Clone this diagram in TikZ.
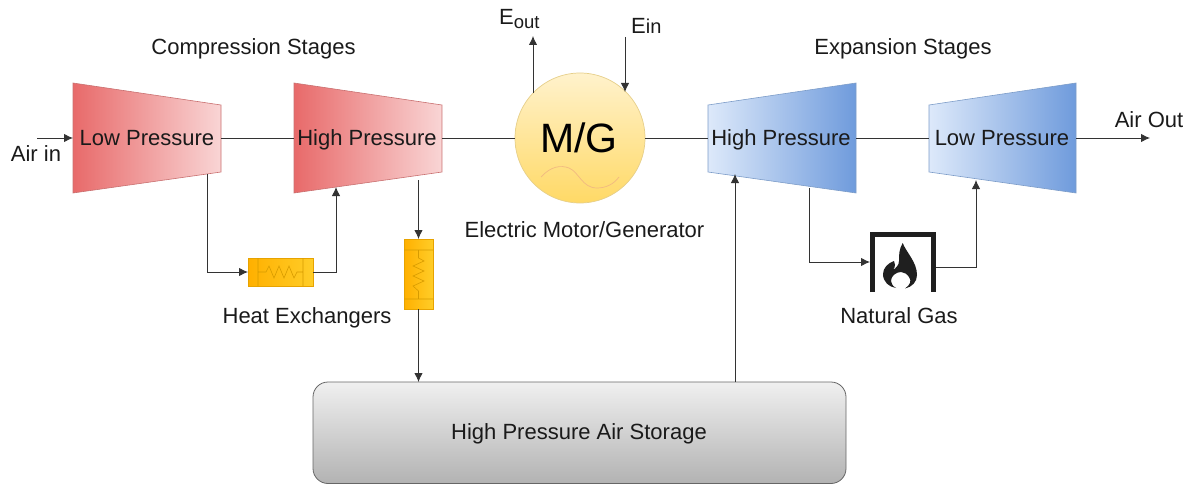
\documentclass[tikz,border=0pt]{standalone}
\usepackage{fontspec}
\setmainfont{Liberation Sans}
\usetikzlibrary{arrows.meta}
\definecolor{txt}{HTML}{1A1A1A}
\definecolor{lnk}{HTML}{333333}
\definecolor{redA}{HTML}{E86A6A}
\definecolor{redB}{HTML}{F9D5D5}
\definecolor{redL}{HTML}{C97070}
\definecolor{bluA}{HTML}{DDE9FA}
\definecolor{bluB}{HTML}{6F9BDC}
\definecolor{bluL}{HTML}{7C9CC8}
\definecolor{hxA}{HTML}{FFB000}
\definecolor{hxB}{HTML}{FFCD28}
\definecolor{hxL}{HTML}{D79B00}
\definecolor{mgA}{HTML}{FFF2CC}
\definecolor{mgB}{HTML}{FFD966}
\definecolor{mgL}{HTML}{E6CF8A}
\tikzset{
  x=1pt,y=-1pt,
  lbl/.style={font=\fontsize{22}{26}\selectfont,text=txt,inner sep=0pt,anchor=base},
  wire/.style={draw=lnk,line width=.9pt},
  conn/.style={wire,-{Latex[length=9pt,width=8.5pt]}},
  comp/.style={left color=redA,right color=redB,draw=redL,line width=.6pt},
  expa/.style={left color=bluA,right color=bluB,draw=bluL,line width=.6pt},
  hxbox/.style={left color=hxA,right color=hxB,draw=hxL!60!hxA,line width=.6pt},
  hxin/.style={draw=hxL,line width=.6pt},
  fire/.style={draw=black!88,line width=4.8pt,line cap=butt,line join=miter}
}
\begin{document}
\begin{tikzpicture}
\useasboundingbox (0,0) rectangle (1197,484);
% turbomachines
\shadedraw[comp] (73,83) -- (221,105) -- (221,172) -- (73,193) -- cycle;
\shadedraw[comp] (294,83) -- (442,105) -- (442,172) -- (294,193) -- cycle;
\shadedraw[expa] (708,105) -- (856,83) -- (856,193) -- (708,172) -- cycle;
\shadedraw[expa] (929,105) -- (1076,83) -- (1076,193) -- (929,172) -- cycle;
% storage
\shadedraw[top color=black!6,bottom color=black!30,draw=black!60,line width=.8pt,rounded corners=15pt]
  (313,382) rectangle (846,483.5);
% motor
\shadedraw[top color=mgA,bottom color=mgB,draw=mgL,line width=.7pt] (580,138) circle (65);
\draw[draw=orange!60!brown!55,line width=.7pt] (541,177) .. controls (551,166) and (561,165) .. (569,168)
  .. controls (579,172) and (582,188) .. (597,188) .. controls (606,188) and (614,184) .. (619,177);
% heat exchangers
\shade[hxbox,draw] (248,258) rectangle (313,286);
\draw[hxin] (258,258) -- (258,286) (303,258) -- (303,286)
  (258,272) -- (266,272) -- (269,266) -- (274,278) -- (279,266) -- (284,278) -- (289,266) -- (294,278) -- (297,272) -- (303,272);
\shade[hxbox,draw] (404,239) rectangle (433,309);
\draw[hxin] (404,250) -- (433,250) (404,299) -- (433,299)
  (418.5,250) -- (418.5,258) -- (424,261) -- (413,266) -- (424,271) -- (413,276) -- (424,281) -- (413,286) -- (418.5,291) -- (418.5,299);
% furnace
\draw[fire] (872.5,292) -- (872.5,234.5) -- (933.5,234.5) -- (933.5,292);
\fill[black!88] (902.7,243) .. controls (906,252) and (917,262) .. (917,275)
  .. controls (917,282) and (912,287) .. (905,288.5)
  .. controls (910,285) and (912,281) .. (909,277)
  .. controls (907,274) and (904,272) .. (901,272)
  .. controls (896,272) and (891,276) .. (891,281)
  .. controls (891,284) and (893,286) .. (896,288)
  .. controls (889,287) and (883,282) .. (883,274)
  .. controls (883,268) and (888,263) .. (894,261)
  .. controls (895,263) and (896,266) .. (893,270)
  .. controls (896,268) and (899,265) .. (899,261)
  .. controls (899,255) and (899,249) .. (902.7,243) -- cycle;
% text and named anchors
\node[lbl] (lp1) at (147,145.5) {Low Pressure};
\node[lbl] (hp1) at (367,145.5) {High Pressure};
\node[lbl] (hp2) at (781,145.5) {High Pressure};
\node[lbl] (lp2) at (1002,145.5) {Low Pressure};
\node[lbl,font=\fontsize{41}{46}\selectfont,text=black] (mg) at (579,153) {M/G};
\node[lbl] at (253.5,55) {Compression Stages};
\node[lbl] at (903,55) {Expansion Stages};
\node[lbl] at (584.5,237) {Electric Motor/Generator};
\node[lbl] at (307,323) {Heat Exchangers};
\node[lbl] at (899,323) {Natural Gas};
\node[lbl] (store) at (579,439) {High Pressure Air Storage};
\node[lbl] at (36,162) {Air in};
\node[lbl] at (1149,128) {Air Out};
\node[lbl,anchor=base west] at (499,24.5) {E\raisebox{-4pt}{\fontsize{18.5}{22}\selectfont out}};
\node[lbl,anchor=base west] at (631,33.5) {E\fontsize{20}{24}\selectfont in};
% connector ends
\coordinate (c1L) at (73,138); \coordinate (c1R) at (221,138);
\coordinate (c2L) at (294,138); \coordinate (c2R) at (442,138);
\coordinate (mL) at (515,138); \coordinate (mR) at (645,138);
\coordinate (t1L) at (708,138); \coordinate (t1R) at (856,138);
\coordinate (t2L) at (929,138); \coordinate (t2R) at (1076,138);
\coordinate (airin) at (37,138); \coordinate (airout) at (1150,138);
\coordinate (c1B) at (207,174); \coordinate (hx1L) at (248,272); \coordinate (hx1R) at (313,272);
\coordinate (c2Bin) at (336,187); \coordinate (c2Bout) at (418.5,180);
\coordinate (hx2T) at (418.5,239); \coordinate (hx2B) at (418.5,309); \coordinate (stT) at (418.5,382);
\coordinate (stU) at (735,382); \coordinate (t1B) at (735,174);
\coordinate (t1Bo) at (809,188); \coordinate (fL) at (870,262); \coordinate (fR) at (936,267);
\coordinate (t2B) at (976,180);
\coordinate (eoS) at (533,93); \coordinate (eoT) at (533,36);
\coordinate (eiS) at (625,37); \coordinate (eiT) at (625,92);
% connectors
\draw[conn] (airin) -- (c1L);
\draw[wire] (c1R) -- (c2L);
\draw[wire] (c2R) -- (mL);
\draw[wire] (mR) -- (t1L);
\draw[wire] (t1R) -- (t2L);
\draw[conn] (t2R) -- (airout);
\draw[conn] (eoS) -- (eoT);
\draw[conn] (eiS) -- (eiT);
\draw[conn] (c1B) |- (hx1L);
\draw[conn] (hx1R) -| (c2Bin);
\draw[conn] (c2Bout) -- (hx2T);
\draw[conn] (hx2B) -- (stT);
\draw[conn] (stU) -- (t1B);
\draw[conn] (t1Bo) |- (fL);
\draw[conn] (fR) -| (t2B);
\end{tikzpicture}
\end{document}
